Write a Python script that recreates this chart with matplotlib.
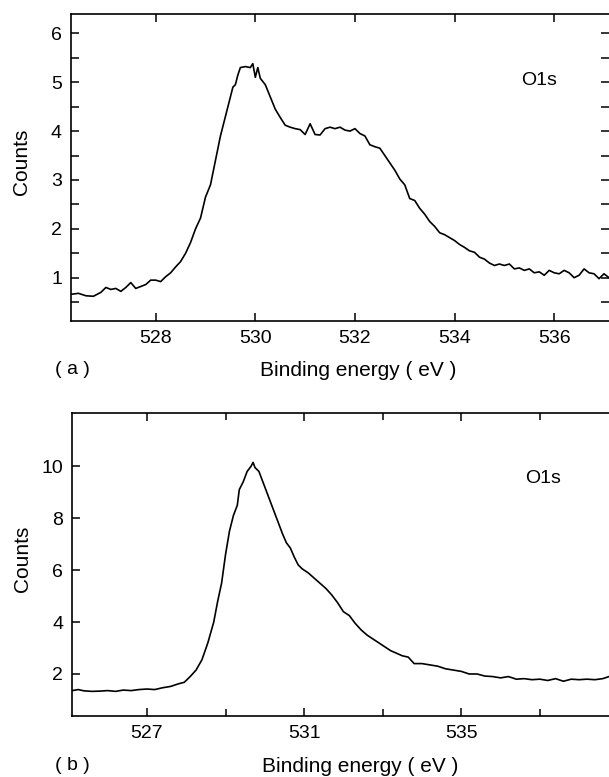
import numpy as np
import matplotlib
matplotlib.use("Agg")
import matplotlib.pyplot as plt
from matplotlib.ticker import MultipleLocator, FixedLocator

plt.rcParams['font.family'] = ['Liberation Sans', 'DejaVu Sans']

# (a) O1s spectrum, binding energy (eV) vs counts
energy_a = [526.30, 526.45, 526.60, 526.75, 526.90, 527.00, 527.10, 527.20, 527.30, 527.40,
            527.50, 527.60, 527.70, 527.80, 527.90, 528.00, 528.10, 528.20, 528.30, 528.40,
            528.50, 528.60, 528.70, 528.80, 528.90, 529.00, 529.10, 529.20, 529.30, 529.40,
            529.50, 529.55, 529.60, 529.65, 529.70, 529.80, 529.90, 529.95, 530.00, 530.05,
            530.10, 530.20, 530.30, 530.40, 530.50, 530.60, 530.70, 530.80, 530.90, 531.00,
            531.10, 531.20, 531.30, 531.40, 531.50, 531.60, 531.70, 531.80, 531.90, 532.00,
            532.10, 532.20, 532.30, 532.40, 532.50, 532.60, 532.70, 532.80, 532.90, 533.00,
            533.10, 533.20, 533.30, 533.40, 533.50, 533.60, 533.70, 533.80, 533.90, 534.00,
            534.10, 534.20, 534.30, 534.40, 534.50, 534.60, 534.70, 534.80, 534.90, 535.00,
            535.10, 535.20, 535.30, 535.40, 535.50, 535.60, 535.70, 535.80, 535.90, 536.00,
            536.10, 536.20, 536.30, 536.40, 536.50, 536.60, 536.70, 536.80, 536.90, 537.00,
            537.10]
counts_a = [0.66, 0.68, 0.63, 0.62, 0.70, 0.80, 0.76, 0.78, 0.72, 0.80,
            0.90, 0.78, 0.82, 0.86, 0.95, 0.95, 0.92, 1.02, 1.10, 1.22,
            1.33, 1.50, 1.72, 2.00, 2.22, 2.65, 2.90, 3.40, 3.90, 4.30,
            4.70, 4.90, 4.95, 5.15, 5.30, 5.32, 5.30, 5.38, 5.10, 5.30,
            5.08, 4.95, 4.70, 4.45, 4.28, 4.12, 4.08, 4.05, 4.03, 3.93,
            4.15, 3.93, 3.92, 4.05, 4.08, 4.05, 4.08, 4.02, 4.00, 4.05,
            3.95, 3.90, 3.72, 3.68, 3.65, 3.50, 3.35, 3.20, 3.02, 2.90,
            2.62, 2.58, 2.42, 2.30, 2.15, 2.05, 1.92, 1.88, 1.82, 1.76,
            1.68, 1.62, 1.55, 1.52, 1.42, 1.38, 1.30, 1.25, 1.28, 1.25,
            1.28, 1.18, 1.20, 1.15, 1.18, 1.10, 1.12, 1.05, 1.15, 1.10,
            1.08, 1.15, 1.10, 1.00, 1.05, 1.18, 1.10, 1.08, 0.98, 1.08,
            1.00]

# (b) O1s spectrum
energy_b = [525.10, 525.25, 525.40, 525.60, 525.80, 526.00, 526.20, 526.40, 526.60, 526.80,
            527.00, 527.20, 527.40, 527.60, 527.80, 527.95, 528.10, 528.25, 528.40, 528.55,
            528.70, 528.80, 528.90, 529.00, 529.10, 529.20, 529.30, 529.35, 529.45, 529.55,
            529.65, 529.70, 529.75, 529.85, 529.95, 530.05, 530.15, 530.25, 530.35, 530.45,
            530.55, 530.65, 530.75, 530.85, 530.95, 531.10, 531.25, 531.40, 531.55, 531.70,
            531.85, 532.00, 532.15, 532.30, 532.45, 532.60, 532.75, 532.90, 533.05, 533.20,
            533.35, 533.50, 533.65, 533.80, 534.00, 534.20, 534.40, 534.60, 534.80, 535.00,
            535.20, 535.40, 535.60, 535.80, 536.00, 536.20, 536.40, 536.60, 536.80, 537.00,
            537.20, 537.40, 537.60, 537.80, 538.00, 538.20, 538.40, 538.60, 538.76]
counts_b = [1.36, 1.40, 1.35, 1.33, 1.34, 1.36, 1.33, 1.38, 1.36, 1.40,
            1.42, 1.40, 1.47, 1.52, 1.62, 1.68, 1.90, 2.15, 2.55, 3.20,
            4.00, 4.80, 5.50, 6.60, 7.50, 8.10, 8.50, 9.10, 9.40, 9.80,
            10.00, 10.15, 9.95, 9.80, 9.40, 9.00, 8.60, 8.20, 7.80, 7.40,
            7.05, 6.85, 6.50, 6.20, 6.05, 5.90, 5.70, 5.50, 5.30, 5.05,
            4.75, 4.40, 4.25, 3.95, 3.70, 3.50, 3.35, 3.20, 3.05, 2.90,
            2.80, 2.70, 2.65, 2.40, 2.40, 2.35, 2.30, 2.20, 2.15, 2.10,
            2.00, 2.00, 1.92, 1.90, 1.85, 1.90, 1.80, 1.82, 1.78, 1.80,
            1.75, 1.82, 1.72, 1.80, 1.78, 1.80, 1.78, 1.82, 1.90]

W, H = 609, 777
fig = plt.figure(figsize=(W / 100, H / 100), dpi=100)


def px_axes(left, top, bottom):
    # place axes in pixel coordinates, right edge at figure edge
    return fig.add_axes([left / W, 1 - bottom / H, 1 - left / W, (bottom - top) / H])


def style(ax):
    ax.spines['right'].set_visible(False)
    for s in ['left', 'top', 'bottom']:
        ax.spines[s].set_linewidth(1.2)
    ax.tick_params(which='both', direction='in', width=1.1, labelsize=14, pad=6.5)
    ax.tick_params(which='major', length=6)
    ax.tick_params(which='minor', length=5)


# ---- panel (a)
ax1 = px_axes(71, 14.3, 320.7)
ax1.plot(energy_a, counts_a, color='black', lw=1.2)
ax1.set_xlim(526.3, 537.1)
ax1.set_ylim(0.12, 6.39)
ax1.xaxis.set_major_locator(MultipleLocator(2))
ax1.yaxis.set_major_locator(MultipleLocator(1))
ax1.yaxis.set_minor_locator(FixedLocator([0.5, 1.5, 2.5, 3.5, 4.5, 5.5]))
style(ax1)
ax1.tick_params(which='minor', length=6)
ax1.tick_params(which='both', top=True, right=True, labelright=False, labeltop=False)
ax1.set_ylabel('Counts', fontsize=15)
ax1.yaxis.set_label_coords(-0.075, 0.52)
ax1.text(535.7, 5.04, 'O1s', fontsize=14, ha='center', va='center')
fig.text(72 / W, 1 - 370 / H, '( a )', fontsize=14, ha='center', va='center')
fig.text(358 / W, 1 - 370 / H, 'Binding energy ( eV )', fontsize=15, ha='center', va='center')

# ---- panel (b)
ax2 = px_axes(72.3, 413.3, 716.3)
ax2.plot(energy_b, counts_b, color='black', lw=1.2)
ax2.set_xlim(525.1, 538.76)
ax2.set_ylim(0.37, 12.04)
ax2.xaxis.set_major_locator(MultipleLocator(4, offset=3))
ax2.xaxis.set_minor_locator(FixedLocator([529, 533, 537]))
ax2.yaxis.set_major_locator(FixedLocator([2, 4, 6, 8, 10]))
style(ax2)
ax2.tick_params(which='both', top=True, right=False, labeltop=False)
ax2.set_ylabel('Counts', fontsize=15)
ax2.yaxis.set_label_coords(-0.075, 0.52)
ax2.text(537.08, 9.54, 'O1s', fontsize=14, ha='center', va='center')
fig.text(72 / W, 1 - 765 / H, '( b )', fontsize=14, ha='center', va='center')
fig.text(360 / W, 1 - 766 / H, 'Binding energy ( eV )', fontsize=15, ha='center', va='center')

fig.savefig('out.png', dpi=100)
